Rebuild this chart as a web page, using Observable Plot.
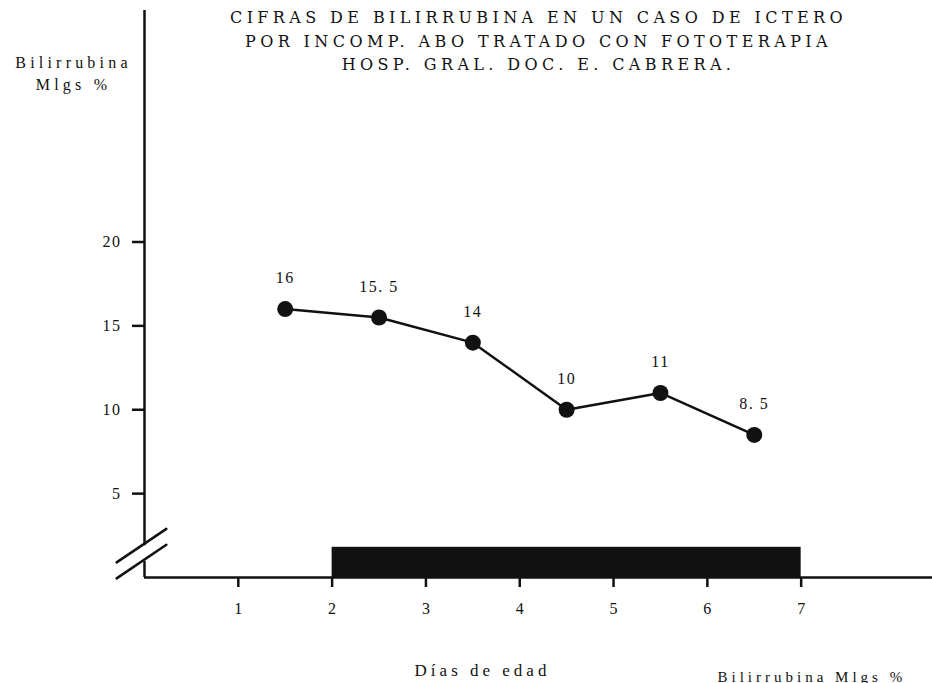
<!DOCTYPE html>
<html><head><meta charset="utf-8">
<script src="https://cdn.jsdelivr.net/npm/d3@7"></script>
<script src="https://cdn.jsdelivr.net/npm/@observablehq/plot@0.6"></script>
<style>
html,body{margin:0;padding:0;background:#fff;overflow:hidden}
g[aria-description="title"]{letter-spacing:4.4px}
g[aria-description="ylabel"]{letter-spacing:4.2px}
g[aria-description="xlabel"]{letter-spacing:4px}
g[aria-description="ticks"]{letter-spacing:1.5px}
</style></head><body><div id="chart"></div>
<script>
const titleLines = ["CIFRAS DE BILIRRUBINA EN UN CASO DE ICTERO", "POR INCOMP. ABO TRATADO CON FOTOTERAPIA", "HOSP. GRAL. DOC. E. CABRERA."];
const yLabelLines = ["Bilirrubina", "Mlgs %"];
const xLabel = "Días de edad";
const cornerLabel = "Bilirrubina Mlgs %";
const days = [1.5, 2.5, 3.5, 4.5, 5.5, 6.5];
const bilirubin = [16, 15.5, 14, 10, 11, 8.5];
const xTicks = [1, 2, 3, 4, 5, 6, 7];
const yTicks = [5, 10, 15, 20];
const xDomain = [0, 8.4];
const yDomain = [0, 33.8];
const axisBreak = [0.95, 1.9];
const phototherapy = [{start: 2, end: 7, level: 1.8}];

const ink = "#111";
const points = days.map((d, i) => ({day: d, value: bilirubin[i]}));
const yAxisSegments = [{y1: yDomain[0], y2: axisBreak[0]}, {y1: axisBreak[1], y2: yDomain[1]}];
const lineShape = {draw(ctx, l) { ctx.moveTo(0, 0); ctx.lineTo(0, -l); }};

const plot = Plot.plot({
  width: 932, height: 683,
  marginLeft: 144, marginRight: 0, marginTop: 10, marginBottom: 106,
  x: {domain: xDomain, axis: null},
  y: {domain: yDomain, axis: null},
  style: {fontFamily: "'Liberation Serif', serif", fontSize: "16px", color: ink, background: "#fff"},
  marks: [
    Plot.rect(phototherapy, {x1: "start", x2: "end", y1: 0, y2: "level", fill: ink}),
    Plot.ruleY([0], {stroke: ink, strokeWidth: 2.5}),
    Plot.ruleX(yAxisSegments, {x: 0, y1: "y1", y2: "y2", stroke: ink, strokeWidth: 2.5}),
    Plot.vector(axisBreak, {x: 0, y: d => d, length: 60, rotate: 56, anchor: "middle", shape: lineShape, stroke: ink, strokeWidth: 2.5, dx: -3}),
    Plot.axisY(yTicks, {tickSize: 12, tickPadding: 11, strokeWidth: 2.5, fontSize: 16, label: null, ariaDescription: "ticks"}),
    Plot.axisX(xTicks, {tickSize: 10, tickPadding: 15, strokeWidth: 2.5, fontSize: 16, label: null}),
    Plot.line(points, {x: "day", y: "value", stroke: ink, strokeWidth: 2.5}),
    Plot.dot(points, {x: "day", y: "value", r: 8, fill: ink}),
    Plot.text(points, {x: "day", y: "value", text: d => String(d.value).replace(".", ". "), dy: -31, fontSize: 16, ariaDescription: "ticks"}),
    Plot.text([titleLines.join("\n")], {frameAnchor: "top", lineAnchor: "top", lineHeight: 1.47, fontSize: 16, fontFamily: "'DejaVu Serif', serif", dy: -4, ariaDescription: "title"}),
    Plot.text([yLabelLines.join("\n")], {frameAnchor: "top-left", textAnchor: "middle", lineAnchor: "top", lineHeight: 1.375, fontSize: 16, dx: -71, dy: 42, ariaDescription: "ylabel"}),
    Plot.text([xLabel], {frameAnchor: "bottom", lineAnchor: "middle", fontSize: 17, dx: -56, dy: 93, ariaDescription: "xlabel"}),
    Plot.text([cornerLabel], {frameAnchor: "bottom-right", textAnchor: "start", lineAnchor: "bottom", fontSize: 15, dx: -215, dy: 104, ariaDescription: "xlabel"})
  ]
});
document.getElementById("chart").appendChild(plot);
</script></body></html>
